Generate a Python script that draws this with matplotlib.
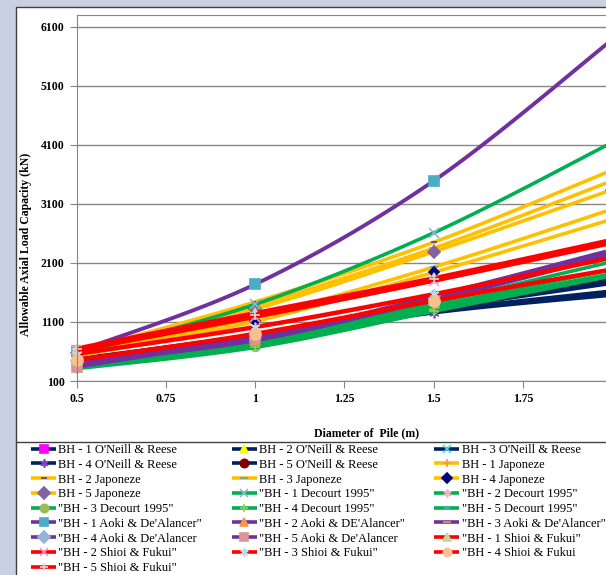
"""Allowable axial load capacity vs pile diameter, five methods x five boreholes."""

import numpy as np
import matplotlib
matplotlib.use("Agg")
import matplotlib.pyplot as plt
from matplotlib.patches import Rectangle
from matplotlib.lines import Line2D

plt.rcParams["font.family"] = ["Liberation Serif", "DejaVu Serif"]

diameters = [0.5, 1.0, 1.5, 2.0]

# capacities (kN) per borehole, BH-1 .. BH-5
oneill_reese = [
    [470, 880, 1350, 1840],
    [450, 850, 1320, 1760],
    [430, 820, 1280, 1620],
    [410, 800, 1260, 1560],
    [460, 860, 1340, 1800],
]
japoneze = [
    [580, 1380, 2350, 3490],
    [600, 1440, 2450, 3670],
    [540, 1180, 2030, 3010],
    [520, 1110, 1940, 2840],
    [570, 1320, 2290, 3340],
]
decourt = [
    [560, 1400, 2610, 4140],
    [380, 760, 1420, 2120],
    [340, 700, 1330, 1920],
    [310, 670, 1280, 1880],
    [360, 730, 1370, 1990],
]
aoki = [
    [600, 1740, 3490, 5880],
    [420, 800, 1510, 2290],
    [410, 790, 1490, 2250],
    [440, 830, 1540, 2320],
    [340, 840, 1470, 2230],
]
shioi = [
    [650, 1250, 1840, 2490],
    [620, 1190, 1800, 2440],
    [560, 1015, 1570, 2190],
    [455, 900, 1460, 1990],
    [635, 1220, 1820, 2460],
]

labels = [
    "BH - 1 O'Neill & Reese", "BH - 2 O'Neill & Reese", "BH - 3 O'Neill & Reese",
    "BH - 4 O'Neill & Reese", "BH - 5 O'Neill & Reese",
    "BH - 1 Japoneze", "BH - 2 Japoneze", "BH - 3 Japoneze",
    "BH - 4 Japoneze", "BH - 5 Japoneze",
    '"BH - 1 Decourt 1995"', '"BH - 2 Decourt 1995"', '"BH - 3 Decourt 1995"',
    '"BH - 4 Decourt 1995"', '"BH - 5 Decourt 1995"',
    '"BH - 1 Aoki & De\'Alancer"', '"BH - 2 Aoki & DE\'Alancer"',
    '"BH - 3 Aoki & De\'Alancer"', '"BH - 4 Aoki & De\'Alancer',
    '"BH - 5 Aoki & De\'Alancer',
    '"BH - 1 Shioi & Fukui"', '"BH - 2 Shioi & Fukui"', '"BH - 3 Shioi & Fukui"',
    '"BH - 4 Shioi & Fukui', '"BH - 5 Shioi & Fukui"',
]

yticks = [100, 1100, 2100, 3100, 4100, 5100, 6100]
xticks = [0.5, 0.75, 1, 1.25, 1.5, 1.75]
xticklabels = ["0.5", "0.75", "1", "1.25", "1.5", "1.75"]

ASTER = (6, 2, 0)
# (line colour, line width, [(marker, face, edge, size) per borehole])
methods = [
    (oneill_reese, "#002060", 3.0, [
        ("s", "#ff00ff", "#ff00ff", 6), ("^", "#ffff00", "#ffff00", 6),
        ("x", "#4bd8f0", "#4bd8f0", 6), (ASTER, "#8040c0", "#8040c0", 7),
        ("o", "#7f0000", "#7f0000", 6)]),
    (japoneze, "#ffc000", 2.6, [
        ("+", "#f79646", "#f79646", 7), ("_", "#4040c0", "#4040c0", 5),
        ("_", "#4bacc6", "#4bacc6", 6), ("D", "#000080", "#000080", 5),
        ("D", "#8064a2", "#8064a2", 6)]),
    (decourt, "#00b050", 2.6, [
        ("x", "#95b3d7", "#95b3d7", 7), (ASTER, "#e6b9b8", "#e6b9b8", 7),
        ("o", "#9bbb59", "#9bbb59", 7), ("+", "#92d050", "#92d050", 7),
        ("_", "#4bacc6", "#4bacc6", 4)]),
    (aoki, "#7030a0", 2.8, [
        ("s", "#4bacc6", "#4bacc6", 7), ("^", "#f79646", "#f79646", 7),
        ("_", "#f79646", "#f79646", 6), ("D", "#95b3d7", "#95b3d7", 6),
        ("s", "#d99694", "#d99694", 7)]),
    (shioi, "#ff0000", 3.2, [
        ("^", "#c3d69b", "#c3d69b", 7), ("x", "#ff99cc", "#ff99cc", 7),
        (ASTER, "#b7dee8", "#b7dee8", 7), ("o", "#fac090", "#fac090", 8),
        ("+", "#d9d9d9", "#d9d9d9", 7)]),
]

STEPS = 40


def excel_smooth(xs, ys, steps=STEPS):
    """Bezier smoothing in the style of spreadsheet 'smoothed line' charts."""
    p = np.column_stack([xs, ys]).astype(float)
    n = len(p)
    t = np.linspace(0, 1, steps)[1:, None]
    out = [p[:1]]
    for i in range(n - 1):
        p0, p1, p2, p3 = p[max(i - 1, 0)], p[i], p[i + 1], p[min(i + 2, n - 1)]
        c1 = p1 + (p2 - p0) / 6
        c2 = p2 - (p3 - p1) / 6
        out.append((1 - t) ** 3 * p1 + 3 * (1 - t) ** 2 * t * c1
                   + 3 * (1 - t) * t ** 2 * c2 + t ** 3 * p2)
    pts = np.vstack(out)
    return pts[:, 0], pts[:, 1]


W, H = 606, 575
fig = plt.figure(figsize=(W / 100, H / 100), dpi=100, facecolor="#c9d0e1")

# chart area (runs off the right and bottom edges)
fig.add_artist(Rectangle((16 / W, -0.1), 1.2, 1 - 7 / H + 0.1,
                         transform=fig.transFigure, facecolor="white",
                         edgecolor="#404040", linewidth=1.0, zorder=0))

ax = fig.add_axes([77 / W, 1 - 381 / H, 535 / W, 366 / H])
ax.set_facecolor("white")

handles = []
marker_idx = [k * (STEPS - 1) for k in range(len(diameters))]
for data, lc, lw, styles in methods:
    for ys, (m, mfc, mec, ms) in zip(data, styles):
        sx, sy = excel_smooth(diameters, ys)
        line, = ax.plot(sx, sy, color=lc, linewidth=lw, marker=m,
                        markevery=marker_idx, markerfacecolor=mfc,
                        markeredgecolor=mec, markersize=ms,
                        markeredgewidth=1.2, solid_capstyle="butt",
                        clip_on=False)
        handles.append(line)

ax.set_xlim(0.5, 2.0)
ax.set_ylim(100, 6300)
ax.set_yticks(yticks)
ax.set_xticks(xticks)
ax.set_xticklabels(xticklabels)
ax.grid(True, axis="y", color="#868686", linewidth=1.0)
ax.set_axisbelow(True)
for s in ax.spines.values():
    s.set_color("#868686")
ax.tick_params(axis="both", direction="out", length=5, color="#868686",
               labelsize=8.5, pad=4)
for lab in ax.get_xticklabels() + ax.get_yticklabels():
    lab.set_fontweight("bold")

fig.text(367 / W, 1 - 433 / H, "Diameter of  Pile (m)", ha="center",
         va="center", fontsize=8.5, fontweight="bold")
fig.text(26 / W, 1 - 244 / H, "Allowable Axial Load Capacity (kN)",
         ha="center", va="center", rotation=90, fontsize=8.5,
         fontweight="bold")

# legend box top edge
fig.add_artist(Line2D([16 / W, 1.0], [1 - 442 / H] * 2,
                      transform=fig.transFigure, color="#404040", linewidth=1.0))

# entries are read across rows, matplotlib fills columns
order = [i for c in range(3) for i in range(c, len(handles), 3)]
leg = fig.legend([handles[i] for i in order], [labels[i] for i in order],
                 ncol=3, loc="upper left", bbox_to_anchor=(31 / W, 1 - 444 / H),
                 frameon=False, fontsize=9, borderpad=0, borderaxespad=0,
                 handlelength=2.0, handletextpad=0.2, columnspacing=2.35,
                 labelspacing=0.22)
for ln in leg.get_lines():
    ln.set_linewidth(2.6)
    ln.set_markersize(min(ln.get_markersize(), 6))

fig.savefig("out.png", dpi=100, facecolor=fig.get_facecolor())
